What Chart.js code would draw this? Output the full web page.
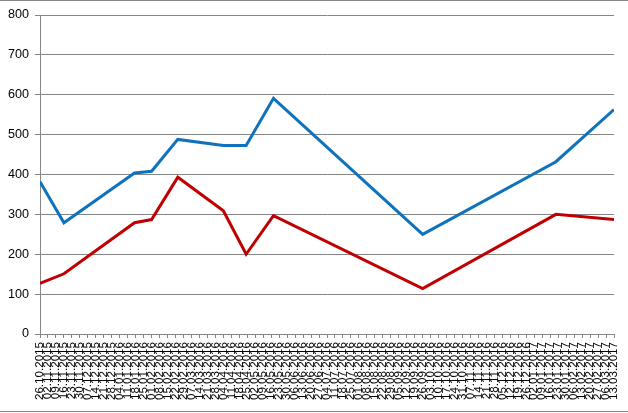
<!DOCTYPE html>
<html>
<head>
<meta charset="utf-8">
<script src="https://cdn.jsdelivr.net/npm/chart.js@4/dist/chart.umd.min.js"></script>
<style>
html,body{margin:0;padding:0;background:#fff;}
#wrap{width:628px;height:413px;position:relative;}
</style>
</head>
<body>
<div id="wrap"><canvas id="c" width="628" height="413"></canvas></div>
<script>
// Weekly tick labels of the date axis
const weekLabels = [
"26.10.2015","02.11.2015","09.11.2015","16.11.2015","23.11.2015","30.11.2015","07.12.2015","14.12.2015","21.12.2015","28.12.2015",
"04.01.2016","11.01.2016","18.01.2016","25.01.2016","01.02.2016","08.02.2016","15.02.2016","22.02.2016","29.02.2016","07.03.2016",
"14.03.2016","21.03.2016","28.03.2016","04.04.2016","11.04.2016","18.04.2016","25.04.2016","02.05.2016","09.05.2016","16.05.2016",
"23.05.2016","30.05.2016","06.06.2016","13.06.2016","20.06.2016","27.06.2016","04.07.2016","11.07.2016","18.07.2016","25.07.2016",
"01.08.2016","08.08.2016","15.08.2016","22.08.2016","29.08.2016","05.09.2016","12.09.2016","19.09.2016","26.09.2016","03.10.2016",
"10.10.2016","17.10.2016","24.10.2016","31.10.2016","07.11.2016","14.11.2016","21.11.2016","28.11.2016","05.12.2016","12.12.2016",
"19.12.2016","26.12.2016","02.01.2017","09.01.2017","16.01.2017","23.01.2017","30.01.2017","06.02.2017","13.02.2017","20.02.2017",
"27.02.2017","06.03.2017","13.03.2017"
];
// Dates of the data points
const pointDates = ["26.10.2015","16.11.2015","17.01.2016","01.02.2016","24.02.2016","04.04.2016","24.04.2016","18.05.2016","26.09.2016","21.01.2017","13.03.2017"];
const blueValues = [382, 279, 404, 408, 488, 473, 473, 591, 250, 432, 563];
const redValues  = [127, 151, 279, 287, 393, 309, 200, 297, 114, 300, 287];
const yTicks = [0,100,200,300,400,500,600,700,800];

function parseDay(s){
  const p = s.split('.');
  return Date.UTC(+p[2], +p[1]-1, +p[0]) / 86400000;
}
const day0 = parseDay(weekLabels[0]);
const dayEnd = parseDay(weekLabels[weekLabels.length-1]);
const xs = pointDates.map(d => parseDay(d) - day0);
const mk = vals => vals.map((v,i) => ({x: xs[i], y: v}));

const GRID = '#868686';
const frame = {
  id: 'frame',
  afterDraw(chart){
    const ctx = chart.ctx;
    ctx.save();
    ctx.strokeStyle = GRID;
    ctx.lineWidth = 1;
    ctx.beginPath();
    ctx.moveTo(0, 0.5); ctx.lineTo(628, 0.5);
    ctx.moveTo(0, 411.5); ctx.lineTo(628, 411.5);
    ctx.stroke();
    ctx.restore();
  }
};

new Chart(document.getElementById('c'), {
  type: 'line',
  data: {
    datasets: [
      {data: mk(blueValues), borderColor: '#0F72BD', borderWidth: 3, pointRadius: 0, tension: 0, fill: false},
      {data: mk(redValues), borderColor: '#C00000', borderWidth: 3, pointRadius: 0, tension: 0, fill: false}
    ]
  },
  options: {
    responsive: false,
    animation: false,
    events: [],
    layout: {padding: {top: 15, right: 14, left: 0, bottom: 0}},
    plugins: {legend: {display: false}, tooltip: {enabled: false}},
    scales: {
      x: {
        type: 'linear',
        min: 0,
        max: dayEnd - day0,
        afterBuildTicks: s => { s.ticks = weekLabels.map((_, i) => ({value: i * 7})); },
        afterFit: s => { s.height = 79; s.paddingRight = 0; s.paddingLeft = 0; },
        ticks: {
          autoSkip: false,
          minRotation: 90,
          maxRotation: 90,
          padding: 4,
          color: '#000',
          font: {family: 'Liberation Sans', size: 11.6},
          callback: (v) => weekLabels[Math.round(v / 7)]
        },
        grid: {drawOnChartArea: false, drawTicks: true, tickLength: 4, color: GRID, lineWidth: 1},
        border: {display: true, color: GRID, width: 1}
      },
      y: {
        min: 0,
        max: 800,
        afterBuildTicks: s => { s.ticks = yTicks.map(v => ({value: v})); },
        afterFit: s => { s.width = 40; s.paddingTop = 0; s.paddingBottom = 0; },
        ticks: {
          padding: 6,
          color: '#000',
          font: {family: 'Liberation Sans', size: 12.6}
        },
        grid: {color: GRID, lineWidth: 1, tickLength: 5},
        border: {display: true, color: GRID, width: 1}
      }
    }
  },
  plugins: [frame]
});
</script>
</body>
</html>
